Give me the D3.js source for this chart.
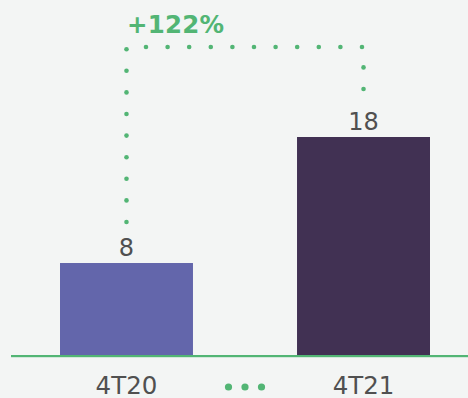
<!DOCTYPE html>
<html><head><meta charset="utf-8">
<script src="https://cdn.jsdelivr.net/npm/d3@7/dist/d3.min.js"></script>
<style>
html,body{margin:0;padding:0;background:#f3f5f4;}
svg{display:block;font-family:"DejaVu Sans",Verdana,sans-serif;}
</style></head>
<body><svg id="c" width="468" height="398"></svg>
<script>
const categories = ["4T20", "4T21"];
const values = [8, 18];
const barColors = ["#6366ab", "#413153"];
const growthLabel = "+122%";

const svg = d3.select("#c");
const green = "#52b574";

const x = d3.scaleBand().domain(categories).range([60, 430]).paddingInner(0.439).paddingOuter(0);
const y = d3.scaleLinear().domain([0.7, 18]).range([355, 137]);

svg.append("rect").attr("width", 468).attr("height", 398).attr("fill", "#f3f5f4");

svg.selectAll("rect.bar").data(values).join("rect").attr("class", "bar")
  .attr("x", (d, i) => x(categories[i]))
  .attr("y", d => y(d))
  .attr("width", x.bandwidth())
  .attr("height", d => y(0.7) - y(d))
  .attr("fill", (d, i) => barColors[i]);

// baseline
svg.append("rect").attr("x", 11).attr("y", 355).attr("width", 457).attr("height", 2.2).attr("fill", green);

// value labels
svg.selectAll("text.val").data(values).join("text").attr("class", "val")
  .attr("x", (d, i) => x(categories[i]) + x.bandwidth() / 2)
  .attr("y", d => y(d) - 7.5)
  .attr("text-anchor", "middle")
  .attr("font-size", 24)
  .attr("fill", "#505050")
  .text(d => d);

// category labels
svg.selectAll("text.cat").data(categories).join("text").attr("class", "cat")
  .attr("x", d => x(d) + x.bandwidth() / 2)
  .attr("y", 393.5)
  .attr("text-anchor", "middle")
  .attr("font-size", 24.5)
  .attr("fill", "#505050")
  .text(d => d);

// dots between categories
const midX = (x(categories[0]) + x.bandwidth() + x(categories[1])) / 2;
svg.selectAll("circle.mid").data([-1, 0, 1]).join("circle").attr("class", "mid")
  .attr("cx", d => midX + d * 16.5)
  .attr("cy", 387)
  .attr("r", 3.6)
  .attr("fill", green);

// connector dotted bracket
const step = 21.6;
const lx = x(categories[0]) + x.bandwidth() / 2;
const rx = x(categories[1]) + x.bandwidth() / 2;
const dots = [];
const leftBottom = y(values[0]) - 41;
for (let i = 0; i < 9; i++) dots.push([lx, leftBottom - i * step]);
for (let i = 0; i < 11; i++) dots.push([lx + 19.5 + i * step, 47]);
const rightBottom = y(values[1]) - 48;
for (let i = 0; i < 2; i++) dots.push([rx, rightBottom - i * step]);
svg.selectAll("circle.con").data(dots).join("circle").attr("class", "con")
  .attr("cx", d => d[0]).attr("cy", d => d[1]).attr("r", 2.3).attr("fill", green);

svg.append("text").attr("x", 127).attr("y", 33)
  .attr("font-size", 24.5).attr("font-weight", "bold").attr("fill", green)
  .attr("textLength", 97)
  .text(growthLabel);
</script></body></html>
